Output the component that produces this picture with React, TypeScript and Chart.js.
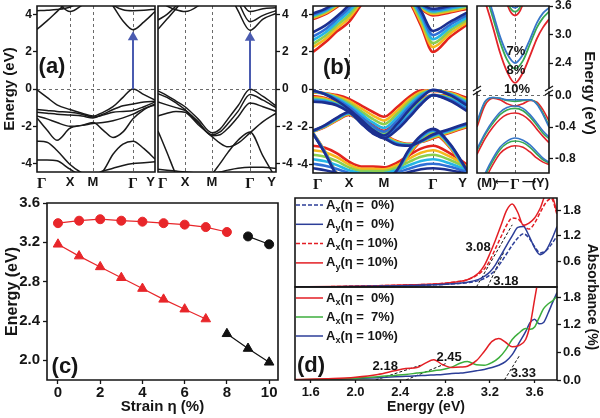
import React, { useEffect, useRef } from 'react';
import { Chart, registerables } from 'chart.js';

Chart.register(...registerables);

const W = 600;
const H = 418;
const FONT = '"Liberation Sans", Arial, Helvetica, sans-serif';
const SERIF = '"Liberation Serif", "Times New Roman", serif';
const INK = '#151515';

// ---------------- (a) band structures ----------------
const A_KLABELS = ['Γ', 'X', 'M', 'Γ', 'Y'];
const A_ETICKS = [-4, -2, 0, 2, 4];
const A_ELABELS = ['-4', '-2', '0', '2', '4'];

const A1_K = [0, 10, 20, 33, 45, 56, 66, 76, 86, 96, 107, 118];
const A1_KTICKS = [0, 33, 56, 96, 118];
const A1_BANDS = [
  [3.2, 3.65, 4.15, 4.8, 5.3, 5.6, 5.6, 5.6, 5.6, 5.6, 5.6, 5.6],
  [4.2, 4.22, 4.26, 4.4, 4.75, 5.2, 5.6, 5.6, 5.6, 5.6, 5.6, 5.6],
  [5.6, 5.3, 4.7, 4.15, 4.5, 5.0, 5.6, 5.6, 5.6, 5.6, 5.6, 5.6],
  [5.6, 5.6, 5.6, 5.6, 5.6, 5.6, 5.2, 4.45, 3.65, 3.18, 3.6, 4.15],
  [5.6, 5.6, 5.6, 5.6, 5.6, 5.6, 5.0, 4.5, 4.25, 4.2, 4.22, 4.28],
  [-0.05, -0.45, -0.85, -1.1, -1.3, -1.45, -1.25, -0.95, -0.45, 0.0, -0.3, -0.6],
  [-1.1, -1.15, -1.2, -1.25, -1.35, -1.5, -1.4, -1.25, -1.2, -1.15, -0.95, -0.7],
  [-1.25, -1.3, -1.35, -1.4, -1.45, -1.55, -1.35, -1.1, -0.9, -0.8, -0.7, -0.65],
  [-1.55, -2.2, -2.75, -2.1, -1.95, -1.8, -2.2, -2.6, -2.3, -1.6, -1.1, -0.8],
  [-1.45, -1.6, -1.8, -2.0, -1.95, -1.85, -1.8, -1.7, -1.55, -1.35, -1.05, -0.85],
  [-2.8, -2.85, -3.3, -4.05, -4.5, -4.7, -4.4, -3.5, -2.95, -2.8, -3.2, -3.75],
  [-3.8, -3.8, -3.85, -4.3, -4.6, -4.6, -4.4, -4.25, -4.1, -4.0, -3.95, -3.9],
];
const A1_ARROW_K = [96, 96];
const A1_ARROW_E = [0, 2.78];

const A2_K = [0, 9, 18, 27, 40, 54, 62, 70, 80, 92, 105, 118];
const A2_KTICKS = [0, 27, 54, 92, 118];
const A2_BANDS = [
  [3.2, 3.75, 4.3, 4.9, 5.6, 6.2, 6.2, 6.2, 6.2, 6.2, 6.2, 6.2],
  [3.7, 4.0, 4.45, 4.9, 5.5, 6.2, 6.2, 6.2, 6.2, 6.2, 6.2, 6.2],
  [4.75, 4.45, 4.25, 4.15, 4.45, 5.2, 6.2, 6.2, 6.2, 6.2, 6.2, 6.2],
  [6.2, 6.2, 6.2, 6.2, 6.2, 6.2, 6.2, 5.3, 4.2, 3.15, 3.75, 4.05],
  [6.2, 6.2, 6.2, 6.2, 6.2, 6.2, 6.2, 5.8, 4.7, 3.6, 3.95, 4.2],
  [6.2, 6.2, 6.2, 6.2, 6.2, 6.2, 6.2, 6.0, 5.0, 4.15, 4.3, 4.35],
  [-0.1, -0.35, -0.65, -0.95, -1.6, -2.35, -2.15, -1.6, -0.9, -0.02, -0.4, -0.9],
  [-0.25, -0.45, -0.75, -1.1, -1.8, -2.45, -2.3, -1.85, -1.2, -0.3, -0.6, -1.0],
  [-0.7, -0.85, -1.0, -1.15, -1.75, -2.5, -2.45, -2.1, -1.5, -0.75, -0.95, -1.2],
  [-1.45, -1.3, -1.2, -1.25, -1.9, -2.55, -2.9, -3.1, -2.9, -2.35, -1.75, -1.3],
  [-2.25, -3.4, -4.6, -5.5, -6.0, -4.6, -4.0, -3.4, -2.75, -2.3, -3.6, -4.8],
  [-4.3, -4.35, -4.4, -4.45, -4.5, -4.5, -4.45, -4.35, -4.25, -4.2, -4.2, -4.25],
];
const A2_ARROW_K = [92, 92];
const A2_ARROW_E = [0, 2.75];

// ---------------- (b) strain-dependent bands ----------------
const B_STRAINS = ['0%', '2%', '4%', '6%', '8%', '10%'];
const B_K = [0, 12, 24, 36, 48, 60, 71, 84, 96, 108, 120, 137, 154];
const B_KTICKS = [0, 36, 71, 120, 154];
const B_CB1 = [
  [3.05, 3.4, 3.9, 4.5, 5.2, 5.8, 6.0, 5.6, 5.2, 4.2, 3.12, 3.6, 4.1],
  [2.82, 3.2, 3.75, 4.33, 5.05, 5.7, 5.92, 5.52, 5.1, 4.04, 2.9, 3.45, 3.97],
  [2.62, 3.02, 3.58, 4.15, 4.9, 5.6, 5.84, 5.44, 5.0, 3.88, 2.68, 3.3, 3.84],
  [2.43, 2.85, 3.42, 3.97, 4.76, 5.5, 5.76, 5.36, 4.9, 3.72, 2.47, 3.14, 3.71],
  [2.25, 2.68, 3.26, 3.8, 4.62, 5.4, 5.68, 5.28, 4.8, 3.56, 2.26, 2.98, 3.58],
  [2.0, 2.5, 3.1, 3.6, 4.5, 5.3, 5.6, 5.2, 4.7, 3.4, 2.0, 2.8, 3.45],
];
const B_CB2 = [
  [4.05, 4.3, 4.7, 5.2, 5.8, 6.2, 6.2, 6.0, 5.3, 4.6, 4.3, 4.45, 4.6],
  [3.99, 4.24, 4.64, 5.14, 5.74, 6.2, 6.2, 5.92, 5.24, 4.54, 4.23, 4.38, 4.54],
  [3.93, 4.18, 4.58, 5.08, 5.68, 6.2, 6.2, 5.84, 5.18, 4.48, 4.16, 4.31, 4.48],
  [3.87, 4.12, 4.52, 5.02, 5.62, 6.2, 6.2, 5.76, 5.12, 4.42, 4.09, 4.24, 4.42],
  [3.81, 4.06, 4.46, 4.96, 5.56, 6.2, 6.2, 5.68, 5.06, 4.36, 4.02, 4.17, 4.36],
  [3.75, 4.0, 4.4, 4.9, 5.5, 6.2, 6.2, 5.6, 5.0, 4.3, 3.95, 4.1, 4.3],
];
const B_VB1 = [
  [-0.05, -0.25, -0.6, -1.05, -1.6, -2.15, -2.45, -1.85, -1.1, -0.45, -0.02, -0.3, -0.85],
  [-0.07, -0.24, -0.54, -0.94, -1.45, -1.96, -2.25, -1.67, -0.96, -0.37, -0.03, -0.27, -0.77],
  [-0.09, -0.23, -0.48, -0.83, -1.3, -1.77, -2.05, -1.49, -0.82, -0.29, -0.04, -0.24, -0.69],
  [-0.11, -0.22, -0.42, -0.72, -1.15, -1.58, -1.85, -1.31, -0.68, -0.21, -0.05, -0.21, -0.61],
  [-0.13, -0.21, -0.36, -0.61, -1.0, -1.39, -1.65, -1.13, -0.54, -0.13, -0.06, -0.18, -0.53],
  [-0.15, -0.2, -0.3, -0.5, -0.85, -1.2, -1.45, -0.95, -0.4, -0.05, -0.08, -0.15, -0.45],
];
const B_VB2 = [
  [-0.65, -0.7, -0.85, -1.2, -1.75, -2.3, -2.6, -2.15, -1.5, -0.8, -0.3, -0.6, -1.15],
  [-0.59, -0.65, -0.82, -1.18, -1.7, -2.22, -2.52, -2.06, -1.42, -0.75, -0.3, -0.55, -1.04],
  [-0.53, -0.6, -0.79, -1.16, -1.65, -2.14, -2.44, -1.97, -1.34, -0.7, -0.3, -0.5, -0.93],
  [-0.47, -0.55, -0.76, -1.14, -1.6, -2.06, -2.36, -1.88, -1.26, -0.65, -0.3, -0.45, -0.82],
  [-0.41, -0.5, -0.73, -1.12, -1.55, -1.98, -2.28, -1.79, -1.18, -0.6, -0.3, -0.4, -0.71],
  [-0.35, -0.45, -0.7, -1.1, -1.5, -1.9, -2.2, -1.7, -1.1, -0.55, -0.3, -0.35, -0.6],
];
const B_VB3 = [
  [-2.2, -1.9, -1.5, -1.2, -1.8, -2.35, -2.6, -2.95, -3.0, -2.75, -2.4, -2.1, -1.8],
  [-2.21, -1.92, -1.53, -1.23, -1.78, -2.3, -2.56, -2.91, -2.98, -2.76, -2.44, -2.14, -1.84],
  [-2.22, -1.94, -1.56, -1.26, -1.76, -2.25, -2.52, -2.87, -2.96, -2.77, -2.48, -2.18, -1.88],
  [-2.23, -1.96, -1.59, -1.29, -1.74, -2.2, -2.48, -2.83, -2.94, -2.78, -2.52, -2.22, -1.92],
  [-2.24, -1.98, -1.62, -1.32, -1.72, -2.15, -2.44, -2.79, -2.92, -2.79, -2.56, -2.26, -1.96],
  [-2.25, -2.0, -1.65, -1.35, -1.7, -2.1, -2.4, -2.75, -2.9, -2.8, -2.6, -2.3, -2.0],
];
const B_VBH = [
  [-2.35, -3.4, -4.6, -5.3, -5.6, -5.5, -5.0, -4.3, -3.2, -2.45, -2.1, -2.9, -4.3],
  [-2.34, -3.38, -4.58, -5.3, -5.6, -5.5, -5.02, -4.34, -3.26, -2.51, -2.15, -2.94, -4.34],
  [-2.33, -3.36, -4.56, -5.3, -5.6, -5.5, -5.04, -4.38, -3.32, -2.57, -2.2, -2.98, -4.38],
  [-2.32, -3.34, -4.54, -5.3, -5.6, -5.5, -5.06, -4.42, -3.38, -2.63, -2.25, -3.02, -4.42],
  [-2.31, -3.32, -4.52, -5.3, -5.6, -5.5, -5.08, -4.46, -3.44, -2.69, -2.3, -3.06, -4.46],
  [-2.3, -3.3, -4.5, -5.3, -5.6, -5.5, -5.1, -4.5, -3.5, -2.75, -2.35, -3.1, -4.5],
];
const B_VB4 = [
  [-4.2, -4.3, -4.45, -4.6, -4.7, -4.7, -4.65, -4.55, -4.4, -4.25, -4.2, -4.3, -4.5],
  [-3.96, -4.06, -4.24, -4.45, -4.58, -4.58, -4.55, -4.42, -4.22, -4.03, -3.96, -4.12, -4.4],
  [-3.72, -3.82, -4.03, -4.3, -4.46, -4.46, -4.45, -4.29, -4.04, -3.81, -3.72, -3.94, -4.3],
  [-3.48, -3.58, -3.82, -4.15, -4.34, -4.34, -4.35, -4.16, -3.86, -3.59, -3.48, -3.76, -4.2],
  [-3.24, -3.34, -3.61, -4.0, -4.22, -4.22, -4.25, -4.03, -3.68, -3.37, -3.24, -3.58, -4.1],
  [-3.0, -3.1, -3.4, -3.85, -4.1, -4.1, -4.15, -3.9, -3.5, -3.15, -3.0, -3.4, -4.0],
];
const RAINBOW = ['#1c2f8f', '#2f6fd6', '#26b5e5', '#8ccf4e', '#f6b81c', '#e3241d'];

// (b) right: zoom around Γ for 7%, 8%, 10%
const BR_K = [-38, -30, -22, -15, -8, 0, 8, 15, 22, 28, 34];
const BR_KTICKS = [-38, -13, 0, 14, 34];
const BR_KLABELS = ['(M)', '⟵', 'Γ', '⟶', '(Y)'];
const BR_TOP_TICKS = [2.4, 3.0, 3.6];
const BR_TOP_LABELS = ['2.4', '3.0', '3.6'];
const BR_BOT_TICKS = [-0.8, -0.4, 0.0];
const BR_BOT_LABELS = ['-0.8', '-0.4', '0.0'];
const BR_COLORS = ['#3776c8', '#36a852', '#e2242a']; // 7%, 8%, 10%
const BR_CB1 = [
  [4.5, 4.0, 3.45, 2.96, 2.6, 2.4, 2.58, 2.9, 3.25, 3.45, 3.56],
  [4.4, 3.9, 3.35, 2.85, 2.47, 2.28, 2.45, 2.8, 3.15, 3.35, 3.48],
  [4.2, 3.7, 3.15, 2.62, 2.22, 1.98, 2.2, 2.55, 2.92, 3.15, 3.32],
];
const BR_CB2 = [
  [6.0, 5.7, 5.2, 4.5, 3.8, 3.56, 3.8, 4.5, 5.2, 5.7, 6.0],
  [6.0, 5.6, 5.1, 4.4, 3.72, 3.48, 3.72, 4.4, 5.1, 5.6, 6.0],
  [6.0, 5.5, 5.0, 4.3, 3.65, 3.4, 3.65, 4.3, 5.0, 5.5, 6.0],
];
const BR_VBA = [
  [-0.33, -0.07, -0.02, -0.03, -0.05, -0.05, -0.05, -0.05, -0.11, -0.24, -0.4],
  [-0.35, -0.08, -0.02, -0.03, -0.06, -0.07, -0.06, -0.05, -0.1, -0.22, -0.38],
  [-0.4, -0.12, -0.03, -0.05, -0.1, -0.13, -0.1, -0.06, -0.08, -0.18, -0.32],
];
const BR_VBB = [
  [-0.68, -0.48, -0.32, -0.21, -0.15, -0.13, -0.16, -0.24, -0.35, -0.45, -0.53],
  [-0.7, -0.5, -0.35, -0.24, -0.18, -0.16, -0.19, -0.27, -0.38, -0.48, -0.55],
  [-0.75, -0.55, -0.4, -0.3, -0.24, -0.22, -0.25, -0.32, -0.43, -0.52, -0.6],
];
const BR_VBC = [
  [-1.25, -1.0, -0.8, -0.66, -0.58, -0.54, -0.57, -0.63, -0.72, -0.8, -0.85],
  [-1.28, -1.03, -0.83, -0.69, -0.61, -0.58, -0.6, -0.66, -0.75, -0.82, -0.86],
  [-1.32, -1.08, -0.88, -0.74, -0.67, -0.64, -0.66, -0.72, -0.8, -0.85, -0.88],
];

// ---------------- (c) gaps vs strain ----------------
const C_STRAIN_TICKS = [0, 2, 4, 6, 8, 10];
const C_STRAIN_LABELS = ['0', '2', '4', '6', '8', '10'];
const C_E_TICKS = [2.0, 2.4, 2.8, 3.2, 3.6];
const C_E_LABELS = ['2.0', '2.4', '2.8', '3.2', '3.6'];
const C_CIRC_RED_X = [0, 1, 2, 3, 4, 5, 6, 7, 8];
const C_CIRC_RED_Y = [3.395, 3.42, 3.435, 3.42, 3.41, 3.395, 3.38, 3.355, 3.305];
const C_CIRC_BLK_X = [9, 10];
const C_CIRC_BLK_Y = [3.26, 3.18];
const C_TRI_RED_X = [0, 1, 2, 3, 4, 5, 6, 7];
const C_TRI_RED_Y = [3.18, 3.06, 2.95, 2.84, 2.73, 2.62, 2.52, 2.42];
const C_TRI_BLK_X = [8, 9, 10];
const C_TRI_BLK_Y = [2.27, 2.12, 1.98];

// ---------------- (d) absorbance ----------------
const D_E_TICKS = [1.6, 2.0, 2.4, 2.8, 3.2, 3.6];
const D_E_LABELS = ['1.6', '2.0', '2.4', '2.8', '3.2', '3.6'];
const D_TOP_TICKS = [0.6, 1.2, 1.8];
const D_TOP_LABELS = ['0.6', '1.2', '1.8'];
const D_BOT_TICKS = [0.0, 0.6, 1.2, 1.8];
const D_BOT_LABELS = ['0.0', '0.6', '1.2', '1.8'];

const D_TOP_E = [1.46, 1.8, 2.2, 2.5, 2.7, 2.9, 3.0, 3.1, 3.15, 3.2, 3.25, 3.3, 3.35, 3.4, 3.45, 3.5, 3.55, 3.6, 3.65, 3.7, 3.75, 3.8];
const D_AX0 = [0.0, 0.005, 0.02, 0.035, 0.05, 0.08, 0.1, 0.15, 0.2, 0.28, 0.4, 0.58, 0.78, 0.98, 1.15, 1.25, 1.15, 0.95, 0.8, 0.85, 1.0, 1.2];
const D_AY0 = [0.0, 0.005, 0.02, 0.035, 0.05, 0.08, 0.11, 0.18, 0.25, 0.35, 0.52, 0.75, 0.98, 1.2, 1.4, 1.42, 1.2, 0.92, 0.76, 0.85, 1.1, 1.42];
const D_AX10 = [0.0, 0.01, 0.03, 0.05, 0.07, 0.12, 0.17, 0.3, 0.42, 0.62, 0.9, 1.18, 1.45, 1.62, 1.6, 1.45, 1.36, 1.5, 1.75, 1.98, 2.08, 1.7];
const D_AY10 = [0.0, 0.01, 0.03, 0.05, 0.07, 0.12, 0.17, 0.33, 0.5, 0.78, 1.1, 1.45, 1.8, 1.95, 1.75, 1.45, 1.5, 1.62, 1.85, 2.15, 2.15, 1.75];
const D_TOP_NAMES = ['A_x(η =  0%)', 'A_y(η =  0%)', 'A_x(η = 10%)', 'A_y(η = 10%)'];
const D_TAN_308_E = [3.08, 3.4];
const D_TAN_308_A = [0, 1.46];
const D_TAN_318_E = [3.18, 3.33];
const D_TAN_318_A = [0, 0.85];

const D_BOT_E = [1.46, 1.8, 2.0, 2.2, 2.35, 2.45, 2.55, 2.62, 2.7, 2.78, 2.86, 2.94, 3.0, 3.08, 3.15, 3.22, 3.28, 3.34, 3.4, 3.46, 3.52, 3.56, 3.6, 3.64, 3.68, 3.72, 3.76, 3.8];
const D_X0 = [0.01, 0.03, 0.06, 0.12, 0.2, 0.25, 0.27, 0.36, 0.44, 0.33, 0.27, 0.28, 0.3, 0.42, 0.62, 0.84, 0.9, 0.82, 0.72, 0.75, 0.88, 1.2, 1.75, 2.3, 2.8, 3.2, 3.5, 3.7];
const D_X7 = [0.005, 0.02, 0.04, 0.07, 0.1, 0.12, 0.15, 0.17, 0.2, 0.23, 0.28, 0.37, 0.4, 0.33, 0.32, 0.38, 0.48, 0.65, 0.88, 1.02, 1.12, 1.1, 1.15, 1.35, 1.55, 1.65, 1.72, 1.82];
const D_X10 = [0.005, 0.015, 0.03, 0.05, 0.07, 0.08, 0.09, 0.1, 0.11, 0.12, 0.14, 0.15, 0.17, 0.2, 0.23, 0.27, 0.32, 0.4, 0.55, 0.8, 1.05, 1.25, 1.32, 1.22, 1.25, 1.45, 1.68, 1.9];
const D_BOT_NAMES = ['A_x(η =  0%)', 'A_x(η =  7%)', 'A_x(η = 10%)'];
const D_TAN_218_E = [2.18, 2.58];
const D_TAN_218_A = [0, 0.32];
const D_TAN_245_E = [2.45, 2.82];
const D_TAN_245_A = [0, 0.37];
const D_TAN_333_E = [3.33, 3.47];
const D_TAN_333_A = [0, 0.55];

// ---------------- helpers ----------------
const pts = (xs: number[], ys: number[]) => xs.map((x, i) => ({ x, y: ys[i] }));

const lineDS = (xs: number[], ys: number[], color: string, width: number, extra: any = {}) => ({
  data: pts(xs, ys),
  borderColor: color,
  backgroundColor: color,
  borderWidth: width,
  pointRadius: 0,
  cubicInterpolationMode: 'monotone',
  fill: false,
  ...extra,
});

function makeAxis(o: any, horiz: boolean) {
  const dashed = new Set(o.dashed || []);
  const fs = o.fs || 12;
  return {
    type: 'linear',
    position: o.pos,
    min: o.min,
    max: o.max,
    afterBuildTicks: (s: any) => {
      s.ticks = (o.ticks || []).map((v: number) => ({ value: v }));
    },
    afterFit: (s: any) => {
      if (horiz) s.height = o.size;
      else s.width = o.size;
      s.paddingTop = 0;
      s.paddingBottom = 0;
      s.paddingLeft = 0;
      s.paddingRight = 0;
    },
    ticks: {
      display: !!o.labels,
      autoSkip: false,
      maxRotation: 0,
      minRotation: 0,
      align: o.align || 'center',
      padding: o.pad ?? 2,
      color: INK,
      font: (c: any) => {
        const lab = c && c.tick ? c.tick.label : '';
        if (lab === 'Γ') return { family: SERIF, size: fs + 2, weight: 'bold' };
        if (lab === '⟵' || lab === '⟶') return { family: '"DejaVu Sans", sans-serif', size: 10, weight: 'bold' };
        return { family: FONT, size: fs, weight: 'bold' };
      },
      callback: (_v: any, i: number) => (o.labels ? o.labels[i] : ''),
    },
    grid: {
      drawOnChartArea: true,
      drawTicks: (o.tl || 0) > 0,
      tickLength: o.tl || 0,
      tickColor: INK,
      tickWidth: 1.3,
      lineWidth: 1,
      color: (c: any) => (c && c.tick && dashed.has(c.tick.value) ? '#6b6b6b' : 'rgba(0,0,0,0)'),
    },
    border: { display: false, dash: [3, 3] },
    title: o.title
      ? { display: true, text: o.title, color: INK, font: { family: FONT, size: o.tfs || 15, weight: 'bold' }, padding: 0 }
      : { display: false },
  };
}

function deco(cfg: any) {
  return {
    id: 'deco',
    afterDraw(chart: any) {
      const ctx = chart.ctx as CanvasRenderingContext2D;
      const a = chart.chartArea;
      ctx.save();
      ctx.strokeStyle = INK;
      ctx.lineWidth = 1.6;
      ctx.lineCap = 'square';
      if (cfg.frame) {
        ctx.beginPath();
        if (cfg.frame.includes('t')) { ctx.moveTo(a.left, a.top); ctx.lineTo(a.right, a.top); }
        if (cfg.frame.includes('b')) { ctx.moveTo(a.left, a.bottom); ctx.lineTo(a.right, a.bottom); }
        if (cfg.frame.includes('l')) { ctx.moveTo(a.left, a.top); ctx.lineTo(a.left, a.bottom); }
        if (cfg.frame.includes('r')) { ctx.moveTo(a.right, a.top); ctx.lineTo(a.right, a.bottom); }
        ctx.stroke();
      }
      ctx.lineCap = 'butt';
      ctx.lineWidth = 1.3;
      for (const s of cfg.strokes || []) {
        ctx.beginPath();
        ctx.moveTo(s[0], s[1]);
        ctx.lineTo(s[2], s[3]);
        ctx.stroke();
      }
      ctx.fillStyle = INK;
      ctx.textBaseline = 'middle';
      for (const tx of cfg.texts || []) {
        const x = tx.data ? chart.scales.x.getPixelForValue(tx.x) : tx.x;
        const y = tx.data ? chart.scales.y.getPixelForValue(tx.y) : tx.y;
        ctx.font = `bold ${tx.s || 13}px ${FONT}`;
        ctx.textAlign = tx.align || 'center';
        ctx.save();
        ctx.translate(x, y);
        if (tx.rot) ctx.rotate(tx.rot);
        ctx.fillText(tx.t, 0, 0);
        ctx.restore();
      }
      if (cfg.legend) {
        const L = cfg.legend;
        let row = 0;
        chart.data.datasets.forEach((ds: any) => {
          if (!ds.label) return;
          const y = L.y + row * L.dy;
          row++;
          ctx.save();
          ctx.strokeStyle = ds.borderColor;
          ctx.lineWidth = ds.borderWidth;
          ctx.setLineDash(ds.borderDash || []);
          ctx.beginPath();
          ctx.moveTo(L.x, y);
          ctx.lineTo(L.x + L.len, y);
          ctx.stroke();
          ctx.restore();
          const m = /^(.*?)_(.)(.*)$/.exec(ds.label);
          let x = L.x + L.len + 3;
          ctx.textAlign = 'left';
          ctx.fillStyle = INK;
          const big = `bold ${L.s}px ${FONT}`;
          const small = `bold ${Math.round(L.s * 0.7)}px ${FONT}`;
          if (m) {
            ctx.font = big;
            ctx.fillText(m[1], x, y);
            x += ctx.measureText(m[1]).width;
            ctx.font = small;
            ctx.fillText(m[2], x, y + L.s * 0.32);
            x += ctx.measureText(m[2]).width;
            ctx.font = big;
            ctx.fillText(m[3], x, y);
          } else {
            ctx.font = big;
            ctx.fillText(ds.label, x, y);
          }
        });
      }
      ctx.restore();
    },
  };
}

function panel(p: any) {
  const [l, t, r, b] = p.plot;
  const yw = p.y.size;
  const xh = p.x.size;
  const padding = {
    left: p.y.pos === 'left' ? l - yw : l,
    right: p.y.pos === 'right' ? W - r - yw : W - r,
    top: t,
    bottom: H - b - xh,
  };
  return {
    type: 'line',
    data: { datasets: p.datasets },
    options: {
      responsive: false,
      maintainAspectRatio: false,
      animation: false,
      devicePixelRatio: 1,
      events: [],
      layout: { padding },
      plugins: { legend: { display: false }, tooltip: { enabled: false }, title: { display: false } },
      scales: { x: makeAxis(p.x, true), y: makeAxis(p.y, false) },
    },
    plugins: [deco(p.deco || {})],
  };
}

const arrowDS = (ks: number[], es: number[]) => ({
  data: pts(ks, es),
  borderColor: '#4a5bb0',
  backgroundColor: '#4a5bb0',
  borderWidth: 2,
  tension: 0,
  pointRadius: [0, 6],
  pointStyle: 'triangle',
  pointBorderWidth: 0,
});

function buildConfigs() {
  const black = '#1a1a1a';
  const cfgs: any[] = [];

  // (a) left
  cfgs.push(panel({
    plot: [37, 6, 155, 172],
    x: { pos: 'bottom', min: 0, max: 118, ticks: A1_KTICKS, labels: A_KLABELS, size: 22, tl: 0, pad: 3, fs: 13, dashed: [33, 56, 96], align: 'inner' },
    y: { pos: 'left', min: -4.45, max: 4.45, ticks: A_ETICKS, labels: A_ELABELS, size: 36, tl: 4, pad: 1, fs: 12, dashed: [0], title: 'Energy (eV)', tfs: 15 },
    datasets: [arrowDS(A1_ARROW_K, A1_ARROW_E), ...A1_BANDS.map((b) => lineDS(A1_K, b, black, 1.5))],
    deco: { frame: 'tblr', texts: [{ t: '(a)', x: 52, y: 67, s: 22 }] },
  }));

  // (a) right
  cfgs.push(panel({
    plot: [158, 6, 276, 172],
    x: { pos: 'bottom', min: 0, max: 118, ticks: A2_KTICKS, labels: A_KLABELS, size: 22, tl: 0, pad: 3, fs: 13, dashed: [27, 54, 92], align: 'inner' },
    y: { pos: 'right', min: -4.45, max: 4.45, ticks: A_ETICKS, labels: A_ELABELS, size: 20, tl: 4, pad: 2, fs: 12, dashed: [0] },
    datasets: [arrowDS(A2_ARROW_K, A2_ARROW_E), ...A2_BANDS.map((b) => lineDS(A2_K, b, black, 1.5))],
    deco: { frame: 'tblr' },
  }));

  // (b) main
  const bBands = [B_CB1, B_CB2, B_VB1, B_VB2, B_VB3, B_VBH, B_VB4];
  const bSets: any[] = [];
  B_STRAINS.forEach((_s, lv) => {
    bBands.forEach((band) => bSets.push(lineDS(B_K, band[lv], RAINBOW[lv], 2.6)));
  });
  cfgs.push(panel({
    plot: [313, 6, 467, 173],
    x: { pos: 'bottom', min: 0, max: 154, ticks: B_KTICKS, labels: A_KLABELS, size: 22, tl: 0, pad: 3, fs: 13, dashed: [36, 71, 120], align: 'inner' },
    y: { pos: 'left', min: -4.45, max: 4.45, ticks: A_ETICKS, labels: A_ELABELS, size: 20, tl: 4, pad: 1, fs: 12, dashed: [0] },
    datasets: bSets,
    deco: { frame: 'tblr', texts: [{ t: '(b)', x: 337, y: 68, s: 22 }] },
  }));

  // (b) right top
  const brTop: any[] = [];
  BR_COLORS.forEach((c, i) => {
    brTop.push(lineDS(BR_K, BR_CB1[i], c, 1.8));
    brTop.push(lineDS(BR_K, BR_CB2[i], c, 1.8));
  });
  cfgs.push(panel({
    plot: [477, 6, 549, 88],
    x: { pos: 'bottom', min: -38, max: 34, ticks: [0], size: 0, tl: 0, dashed: [0] },
    y: { pos: 'right', min: 1.874, max: 3.6, ticks: BR_TOP_TICKS, labels: BR_TOP_LABELS, size: 30, tl: 4, pad: 2, fs: 12 },
    datasets: brTop,
    deco: {
      frame: 'tlr',
      texts: [
        { t: '7%', x: 516, y: 51, s: 13 },
        { t: '8%', x: 516, y: 70, s: 13 },
        { t: '10%', x: 517, y: 89, s: 13 },
        { t: 'Energy (eV)', x: 589, y: 93, s: 15, rot: Math.PI / 2 },
      ],
      strokes: [
        [473, 91, 481, 86], [473, 95, 481, 90],
        [545, 91, 553, 86], [545, 95, 553, 90],
      ],
    },
  }));

  // (b) right bottom
  const brBot: any[] = [];
  BR_COLORS.forEach((c, i) => {
    brBot.push(lineDS(BR_K, BR_VBA[i], c, 1.6));
    brBot.push(lineDS(BR_K, BR_VBB[i], c, 1.6));
    brBot.push(lineDS(BR_K, BR_VBC[i], c, 1.6));
  });
  cfgs.push(panel({
    plot: [477, 92, 549, 173],
    x: { pos: 'bottom', min: -38, max: 34, ticks: BR_KTICKS, labels: BR_KLABELS, size: 22, tl: 0, pad: 3, fs: 13, dashed: [0], align: 'inner' },
    y: { pos: 'right', min: -0.99, max: 0.05, ticks: BR_BOT_TICKS, labels: BR_BOT_LABELS, size: 30, tl: 4, pad: 2, fs: 12, dashed: [0] },
    datasets: brBot,
    deco: { frame: 'blr' },
  }));

  // (c)
  const red = '#e8262a';
  const cPt = (color: string, style: string, r: number) => ({
    borderColor: color, backgroundColor: color, borderWidth: 1.2, tension: 0,
    pointStyle: style, pointRadius: r, pointBackgroundColor: color, pointBorderColor: color, pointBorderWidth: 1,
  });
  cfgs.push(panel({
    plot: [47, 203, 278, 380],
    x: { pos: 'bottom', min: -0.52, max: 10.42, ticks: C_STRAIN_TICKS, labels: C_STRAIN_LABELS, size: 36, tl: 4, pad: 0, fs: 15, title: 'Strain η (%)', tfs: 15 },
    y: { pos: 'left', min: 1.8, max: 3.6, ticks: C_E_TICKS, labels: C_E_LABELS, size: 44, tl: 4, pad: 3, fs: 15, title: 'Energy (eV)', tfs: 16 },
    datasets: [
      { data: pts(C_CIRC_RED_X, C_CIRC_RED_Y), ...cPt(red, 'circle', 4.5) },
      { data: pts(C_CIRC_BLK_X, C_CIRC_BLK_Y), ...cPt('#111', 'circle', 4.5) },
      { data: pts(C_TRI_RED_X, C_TRI_RED_Y), ...cPt(red, 'triangle', 5.5) },
      { data: pts(C_TRI_BLK_X, C_TRI_BLK_Y), ...cPt('#111', 'triangle', 5.5) },
    ],
    deco: { frame: 'tblr', texts: [{ t: '(c)', x: 65, y: 367, s: 22 }] },
  }));

  // (d) top
  const navy = '#2c3e98';
  const dred = '#e31e24';
  const tan = (xs: number[], ys: number[]) => lineDS(xs, ys, '#111', 1, { tension: 0, cubicInterpolationMode: 'default', borderDash: [3, 2] });
  cfgs.push(panel({
    plot: [295, 198, 557, 287],
    x: { pos: 'bottom', min: 1.46, max: 3.8, ticks: [], size: 0, tl: 0 },
    y: { pos: 'right', min: 0, max: 2.09, ticks: D_TOP_TICKS, labels: D_TOP_LABELS, size: 30, tl: 4, pad: 2, fs: 13 },
    datasets: [
      lineDS(D_TOP_E, D_AX0, navy, 1.5, { label: D_TOP_NAMES[0], borderDash: [4, 2] }),
      lineDS(D_TOP_E, D_AY0, navy, 1.5, { label: D_TOP_NAMES[1] }),
      lineDS(D_TOP_E, D_AX10, dred, 1.5, { label: D_TOP_NAMES[2], borderDash: [4, 2] }),
      lineDS(D_TOP_E, D_AY10, dred, 1.5, { label: D_TOP_NAMES[3] }),
      tan(D_TAN_308_E, D_TAN_308_A),
      tan(D_TAN_318_E, D_TAN_318_A),
    ],
    deco: {
      frame: 'tblr',
      legend: { x: 296, y: 205, dy: 19.3, len: 27, s: 13 },
      texts: [
        { t: '3.08', x: 3.095, y: 0.94, data: true, s: 13 },
        { t: '3.18', x: 3.344, y: 0.14, data: true, s: 13 },
      ],
    },
  }));

  // (d) bottom
  cfgs.push(panel({
    plot: [295, 287, 557, 380],
    x: { pos: 'bottom', min: 1.46, max: 3.8, ticks: D_E_TICKS, labels: D_E_LABELS, size: 35.4, tl: 3, pad: 2, fs: 13, title: 'Energy (eV)', tfs: 14 },
    y: { pos: 'right', min: 0, max: 2.02, ticks: D_BOT_TICKS, labels: D_BOT_LABELS, size: 30, tl: 4, pad: 2, fs: 13 },
    datasets: [
      lineDS(D_BOT_E, D_X0, dred, 1.5, { label: D_BOT_NAMES[0] }),
      lineDS(D_BOT_E, D_X7, '#3cae3c', 1.5, { label: D_BOT_NAMES[1] }),
      lineDS(D_BOT_E, D_X10, navy, 1.5, { label: D_BOT_NAMES[2] }),
      tan(D_TAN_218_E, D_TAN_218_A),
      tan(D_TAN_245_E, D_TAN_245_A),
      tan(D_TAN_333_E, D_TAN_333_A),
    ],
    deco: {
      frame: 'tblr',
      legend: { x: 296, y: 298, dy: 19, len: 27, s: 13 },
      texts: [
        { t: '2.18', x: 2.266, y: 0.29, data: true, s: 13 },
        { t: '2.45', x: 2.836, y: 0.5, data: true, s: 13 },
        { t: '3.33', x: 3.5, y: 0.15, data: true, s: 13 },
        { t: '(d)', x: 311, y: 366, s: 22 },
        { t: 'Absorbance (%)', x: 592, y: 297, s: 14, rot: Math.PI / 2 },
      ],
    },
  }));

  return cfgs;
}

const N_CHARTS = 8;

export default function App() {
  const refs = useRef<(HTMLCanvasElement | null)[]>([]);
  useEffect(() => {
    const charts = buildConfigs().map((cfg, i) => new Chart(refs.current[i] as HTMLCanvasElement, cfg as any));
    return () => charts.forEach((c) => c.destroy());
  }, []);
  return (
    <div style={{ position: 'absolute', left: 0, top: 0, width: W, height: H, background: '#ffffff', overflow: 'hidden' }}>
      {Array.from({ length: N_CHARTS }).map((_, i) => (
        <canvas
          key={i}
          ref={(el) => { refs.current[i] = el; }}
          width={W}
          height={H}
          style={{ position: 'absolute', left: 0, top: 0, width: W, height: H }}
        />
      ))}
    </div>
  );
}
